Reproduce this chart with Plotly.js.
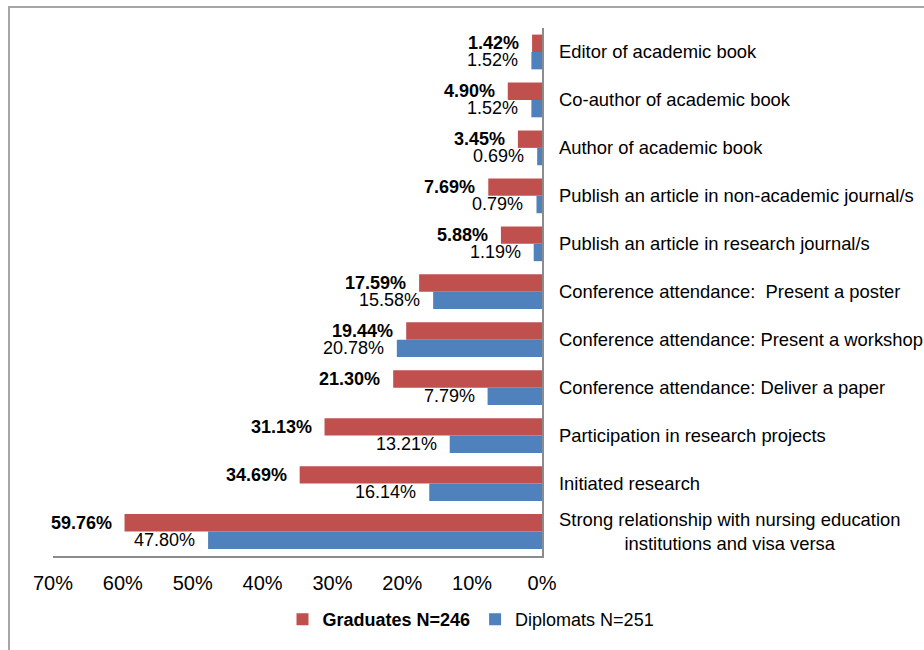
<!DOCTYPE html>
<html>
<head>
<meta charset="utf-8">
<script src="https://cdn.plot.ly/plotly-3.0.1.min.js"></script>
<style>html,body{margin:0;padding:0;background:#fff;}#chart{width:924px;height:650px;}</style>
</head>
<body>
<div id="chart"></div>
<script>
// Categories listed bottom to top
const categories = [
  "Strong relationship with nursing education<br>institutions and visa versa",
  "Initiated research",
  "Participation in research projects",
  "Conference attendance: Deliver a paper",
  "Conference attendance: Present a workshop",
  "Conference attendance:\u00a0 Present a poster",
  "Publish an article in research journal/s",
  "Publish an article in non-academic journal/s",
  "Author of academic book",
  "Co-author of academic book",
  "Editor of academic book"
];
const graduates = [59.76, 34.69, 31.13, 21.30, 19.44, 17.59, 5.88, 7.69, 3.45, 4.90, 1.42];
const diplomats = [47.80, 16.14, 13.21, 7.79, 20.78, 15.58, 1.19, 0.79, 0.69, 1.52, 1.52];
const gradName = "<b>Graduates N=246</b>";
const dipName = "Diplomats N=251";
const tickVals = [0, 10, 20, 30, 40, 50, 60, 70];

const RED = "#c0504d", BLUE = "#4f81bd";
const FONT = "Liberation Sans, Arial, sans-serif";

const W = 924, H = 650, ML = 53, MR = 382, MT = 28, MB = 91;
const PW = W - ML - MR, PH = H - MT - MB;
const px = x => (x - ML) / PW;
const py = y => (H - MB - y) / PH;

const traces = [
  {type: "bar", orientation: "h", name: dipName, y: categories, x: diplomats,
   marker: {color: BLUE}, hoverinfo: "skip"},
  {type: "bar", orientation: "h", name: gradName, y: categories, x: graduates,
   marker: {color: RED}, hoverinfo: "skip"}
];

const annotations = [];
categories.forEach((c, i) => {
  annotations.push({x: graduates[i], y: c, xref: "x", yref: "y", xanchor: "right", yanchor: "middle",
    xshift: -11, yshift: 8.5, showarrow: false,
    text: "<b>" + graduates[i].toFixed(2) + "%</b>", font: {family: FONT, size: 18, color: "#000"}});
  annotations.push({x: diplomats[i], y: c, xref: "x", yref: "y", xanchor: "right", yanchor: "middle",
    xshift: -11, yshift: -8.5, showarrow: false,
    text: diplomats[i].toFixed(2) + "%", font: {family: FONT, size: 18, color: "#000"}});
  annotations.push({x: 1, y: c, xref: "paper", yref: "y", xanchor: "left", yanchor: "middle",
    xshift: 15, showarrow: false, align: "center",
    text: c, font: {family: FONT, size: 18.4, color: "#000"}});
});

const layout = {
  width: W, height: H,
  margin: {l: ML, r: MR, t: MT, b: MB, pad: 0},
  paper_bgcolor: "#fff", plot_bgcolor: "#fff",
  font: {family: FONT, size: 18, color: "#000"},
  barmode: "group", bargap: 0.275, bargroupgap: 0,
  showlegend: true,
  legend: {orientation: "h", traceorder: "reversed", x: px(471), xanchor: "center",
    y: py(623), yanchor: "middle", font: {family: FONT, size: 18, color: "#000"},
    bgcolor: "rgba(0,0,0,0)"},
  xaxis: {range: [70, 0], tickvals: tickVals, ticktext: tickVals.map(v => v + "%"),
    showgrid: false, zeroline: false, showline: true, linecolor: "#8c8c8c", linewidth: 2,
    ticks: "", ticklabelstandoff: 8, tickfont: {family: FONT, size: 20, color: "#000"}, fixedrange: true},
  yaxis: {type: "category", categoryorder: "array", categoryarray: categories, side: "right",
    showticklabels: false, showgrid: false, zeroline: false, showline: true,
    linecolor: "#8c8c8c", linewidth: 2, ticks: "", fixedrange: true},
  annotations: annotations,
  shapes: [{type: "rect", xref: "paper", yref: "paper",
    x0: px(9), x1: px(950), y0: py(670), y1: py(7),
    line: {color: "#a6a6a6", width: 2}, fillcolor: "rgba(0,0,0,0)", layer: "below"}],
  hovermode: false
};

Plotly.newPlot("chart", traces, layout, {staticPlot: true, displayModeBar: false});
</script>
</body>
</html>
